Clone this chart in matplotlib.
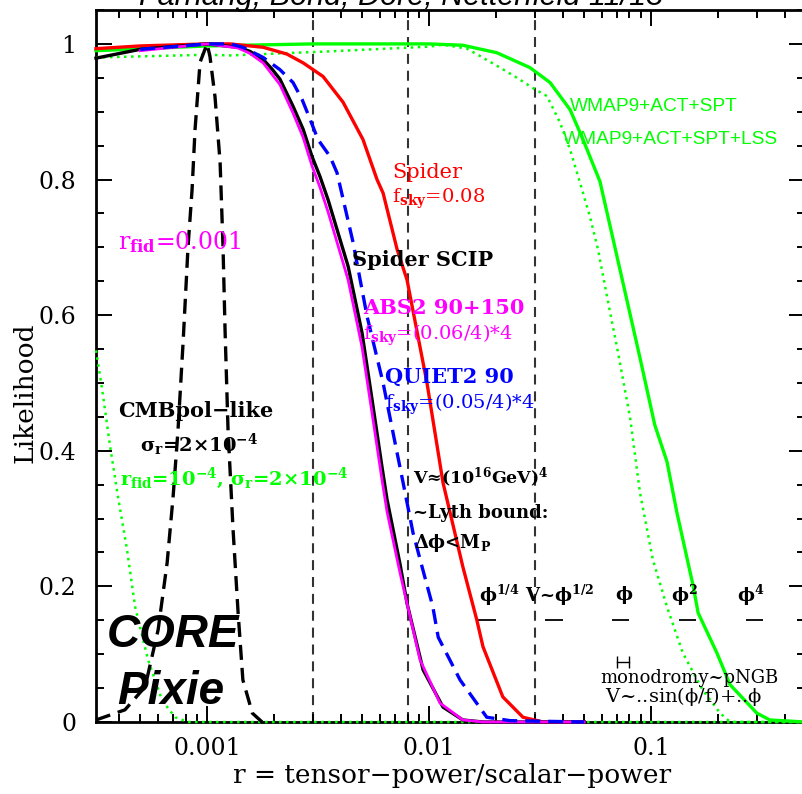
import matplotlib
matplotlib.use('Agg')
import matplotlib.pyplot as plt
from matplotlib.ticker import FixedLocator, NullFormatter

plt.rcParams['font.family'] = 'DejaVu Serif'
plt.rcParams['mathtext.fontset'] = 'dejavuserif'
plt.rcParams['mathtext.default'] = 'regular'

# Likelihood curves
spider_r = [3.16e-4, 5.0e-4, 1.0e-3, 1.27e-3, 1.79e-3, 2.29e-3, 2.71e-3, 3.33e-3, 4.10e-3, 5.04e-3,
            5.83e-3, 6.21e-3, 7.18e-3, 7.96e-3, 9.79e-3, 1.156e-2, 1.42e-2, 1.64e-2, 1.75e-2, 2.15e-2,
            2.65e-2, 3.26e-2, 5.0e-2]
spider_L = [0.993, 0.997, 1.0, 1.0, 0.995, 0.985, 0.972, 0.952, 0.914, 0.859,
            0.80, 0.78, 0.697, 0.652, 0.50, 0.353, 0.229, 0.151, 0.111, 0.037,
            0.007, 0.0, 0.0]

quiet_r = [5.0e-4, 1.0e-3, 1.27e-3, 1.45e-3, 1.79e-3, 2.13e-3, 2.44e-3, 2.68e-3, 2.91e-3, 3.16e-3,
           3.58e-3, 3.85e-3, 4.55e-3, 5.26e-3, 6.21e-3, 6.88e-3, 7.64e-3, 8.47e-3, 9.30e-3, 1.04e-2,
           1.10e-2, 1.38e-2, 1.82e-2, 2.32e-2, 5.0e-2]
quiet_L = [0.992, 1.0, 1.0, 0.995, 0.98, 0.962, 0.943, 0.918, 0.889, 0.859,
           0.834, 0.81, 0.707, 0.598, 0.50, 0.427, 0.353, 0.279, 0.229, 0.17,
           0.125, 0.062, 0.007, 0.002, 0.0]

scip_r = [3.16e-4, 5.0e-4, 1.0e-3, 1.38e-3, 1.56e-3, 1.79e-3, 1.96e-3, 2.13e-3, 2.44e-3, 2.71e-3,
          2.97e-3, 3.23e-3, 3.51e-3, 4.32e-3, 4.99e-3, 5.54e-3, 6.14e-3, 6.47e-3, 7.40e-3, 7.96e-3,
          9.40e-3, 1.156e-2, 1.42e-2, 1.75e-2, 5.0e-2]
scip_L = [0.979, 0.992, 1.0, 0.995, 0.989, 0.977, 0.963, 0.948, 0.908, 0.874,
          0.834, 0.804, 0.77, 0.672, 0.574, 0.475, 0.376, 0.328, 0.233, 0.175,
          0.077, 0.022, 0.003, 0.0, 0.0]

abs2_r = [5.0e-4, 1.0e-3, 1.38e-3, 1.56e-3, 1.79e-3, 2.13e-3, 2.44e-3, 2.71e-3, 2.97e-3, 3.23e-3,
          3.51e-3, 4.32e-3, 4.99e-3, 5.54e-3, 6.14e-3, 6.47e-3, 7.40e-3, 9.10e-3, 1.12e-2, 1.42e-2,
          1.75e-2, 5.0e-2]
abs2_L = [0.99, 1.0, 0.994, 0.986, 0.972, 0.94, 0.898, 0.862, 0.82, 0.788,
          0.752, 0.652, 0.553, 0.455, 0.357, 0.31, 0.22, 0.092, 0.028, 0.003,
          0.0, 0.0]

wmap_r = [3.16e-4, 1.0e-3, 3.0e-3, 1.0e-2, 1.42e-2, 2.02e-2, 2.85e-2, 3.51e-2, 4.32e-2, 4.94e-2,
          5.89e-2, 7.25e-2, 8.92e-2, 0.104, 0.118, 0.131, 0.155, 0.163, 0.198, 0.227,
          0.300, 0.343, 0.494]
wmap_L = [0.99, 0.997, 1.0, 1.0, 0.998, 0.987, 0.965, 0.943, 0.903, 0.859,
          0.797, 0.667, 0.537, 0.438, 0.384, 0.308, 0.2, 0.161, 0.102, 0.055,
          0.013, 0.003, 0.0]

lss_r = [3.16e-4, 1.0e-3, 1.27e-3, 3.58e-3, 1.01e-2, 1.156e-2, 1.48e-2, 1.70e-2, 2.09e-2, 2.49e-2,
         3.0e-2, 3.40e-2, 3.89e-2, 4.32e-2, 4.79e-2, 5.31e-2, 5.77e-2, 6.34e-2, 7.10e-2, 8.04e-2,
         8.92e-2, 0.102, 0.118, 0.139, 0.171, 0.205, 0.227, 0.494]
lss_L = [0.98, 0.984, 0.983, 0.989, 0.996, 0.999, 0.993, 0.982, 0.965, 0.950,
         0.933, 0.923, 0.884, 0.844, 0.795, 0.745, 0.697, 0.627, 0.545, 0.45,
         0.338, 0.239, 0.17, 0.102, 0.047, 0.013, 0.0, 0.0]

# CMBpol-like forecasts, r_fid = 1e-4 (green dotted) and r_fid = 1e-3 (black dashed)
cmb4_r = [3.16e-4, 3.37e-4, 3.66e-4, 3.97e-4, 4.36e-4, 4.74e-4, 5.42e-4, 6.27e-4, 7.18e-4, 8.21e-4, 0.494]
cmb4_L = [0.548, 0.49, 0.406, 0.332, 0.254, 0.17, 0.092, 0.032, 0.007, 0.0, 0.0]

cmb3_r = [3.16e-4, 4.27e-4, 5.26e-4, 6.02e-4, 6.61e-4, 7.03e-4, 7.40e-4, 7.80e-4, 8.21e-4, 8.56e-4,
          8.83e-4, 9.30e-4, 1.0e-3, 1.03e-3, 1.086e-3, 1.145e-3, 1.18e-3, 1.205e-3, 1.243e-3, 1.31e-3,
          1.38e-3, 1.45e-3, 1.60e-3, 1.77e-3]
cmb3_L = [0.003, 0.018, 0.052, 0.136, 0.235, 0.332, 0.431, 0.56, 0.701, 0.785,
          0.874, 0.973, 1.0, 0.982, 0.922, 0.825, 0.701, 0.579, 0.431, 0.283,
          0.161, 0.062, 0.013, 0.0]

# vertical reference lines
vlines_r = [0.003, 0.008, 0.03]

# inflation model predictions (N = 50..60)
model_lo = [0.0167, 0.0333, 0.0667, 0.133, 0.267]
model_hi = [0.02, 0.04, 0.08, 0.16, 0.32]
model_lab = [r'$\phi^{1/4}$', r'V~$\phi^{1/2}$', r'$\phi$', r'$\phi^{2}$', r'$\phi^{4}$']
model_lab_r = [0.0207, 0.0389, 0.0755, 0.142, 0.282]
mono_lo, mono_hi = 0.07, 0.08

fig = plt.figure(figsize=(8.03, 7.94), dpi=100)
ax = fig.add_axes([96/803, 72/794, 709/803, 712/794])
ax.set_xscale('log')
ax.set_xlim(3.16e-4, 0.494)
ax.set_ylim(0, 1.05)

for v in vlines_r:
    ax.axvline(v, color='#333333', lw=1.5, ls=(0, (4.8, 3.3)), zorder=1)

kw = dict(clip_on=False, zorder=3)
ax.plot(wmap_r, wmap_L, color='#00ff00', lw=2.4, **kw)
ax.plot(lss_r, lss_L, color='#00ff00', lw=1.8, ls=(0, (1, 1.8)), **kw)
ax.plot(cmb4_r, cmb4_L, color='#00ff00', lw=1.8, ls=(0, (1, 1.8)), **kw)
ax.plot(cmb3_r, cmb3_L, color='black', lw=2.4, ls=(0, (4.5, 2.4)), **kw)
ax.plot(spider_r, spider_L, color='red', lw=2.4, **kw)
ax.plot(scip_r, scip_L, color='black', lw=2.4, **kw)
ax.plot(abs2_r, abs2_L, color='#ff00ff', lw=2.0, **kw)
ax.plot(quiet_r, quiet_L, color='blue', lw=2.4, ls=(0, (4.5, 2.4)), **kw)

# model bars and labels
ax.hlines([0.15] * len(model_lo), model_lo, model_hi, color='black', lw=1.3)
for lab, xr in zip(model_lab, model_lab_r):
    ax.text(xr, 0.187, lab, ha='center', va='center', fontsize=13, fontweight='bold')
ax.plot([mono_lo, mono_hi], [0.089, 0.089], color='black', lw=1.0, marker='|', ms=9, mew=1.0)
ax.text(5.89e-2, 0.065, 'monodromy~pNGB', fontsize=13, va='center')
ax.text(6.2e-2, 0.037, r'V~..sin($\phi$/f)+..$\phi$', fontsize=14, va='center')

# annotations
ax.text(3.97e-4, 0.708, r'r$_{\mathbf{fid}}$=0.001', color='#ff00ff', fontsize=17, va='center')
ax.text(6.81e-3, 0.81, 'Spider', color='red', fontsize=15, va='center')
ax.text(6.81e-3, 0.772, r'f$_{\mathbf{sky}}$=0.08', color='red', fontsize=14, va='center')
ax.text(4.50e-3, 0.682, 'Spider SCIP', color='black', fontsize=15, fontweight='bold', va='center')
ax.text(5.04e-3, 0.611, 'ABS2 90+150', color='#ff00ff', fontsize=15, fontweight='bold', va='center')
ax.text(5.04e-3, 0.570, r'f$_{\mathbf{sky}}$=(0.06/4)*4', color='#ff00ff', fontsize=14, va='center')
ax.text(6.34e-3, 0.509, 'QUIET2 90', color='blue', fontsize=15, fontweight='bold', va='center')
ax.text(6.34e-3, 0.468, r'f$_{\mathbf{sky}}$=(0.05/4)*4', color='blue', fontsize=14, va='center')
ax.text(8.47e-3, 0.360, 'V≈(10$^{16}$GeV)$^4$', fontsize=12.5, fontweight='bold', va='center')
ax.text(8.47e-3, 0.308, '~Lyth bound:', fontsize=13, fontweight='bold', va='center')
ax.text(8.6e-3, 0.264, r'$\Delta\phi$<M$_P$', fontsize=13, fontweight='bold', va='center')
ax.text(3.97e-4, 0.458, 'CMBpol\u2212like', fontsize=15, fontweight='bold', va='center')
ax.text(5.0e-4, 0.409, '$\\sigma_r$=2×10$^{-4}$', fontsize=14, fontweight='bold', va='center')
ax.text(4.06e-4, 0.360, 'r$_{fid}$=10$^{-4}$, $\\sigma_r$=2×10$^{-4}$', color='#00ff00',
        fontsize=14, fontweight='bold', va='center')
ax.text(3.55e-4, 0.128, 'CORE', family='Liberation Sans', fontsize=33, fontweight='bold',
        style='italic', va='center')
ax.text(3.93e-4, 0.044, 'Pixie', family='Liberation Sans', fontsize=33, fontweight='bold',
        style='italic', va='center')
ax.text(4.32e-2, 0.908, 'WMAP9+ACT+SPT', color='#00ff00', family='Liberation Sans', fontsize=13.8,
        va='center')
ax.text(4.01e-2, 0.859, 'WMAP9+ACT+SPT+LSS', color='#00ff00', family='Liberation Sans',
        fontsize=13.8, va='center')

# axes styling
ax.xaxis.set_major_locator(FixedLocator([1e-3, 1e-2, 1e-1]))
ax.set_xticklabels(['0.001', '0.01', '0.1'])
ax.xaxis.set_minor_locator(FixedLocator([m * 10.0 ** e for e in (-4, -3, -2, -1) for m in range(2, 10)]))
ax.xaxis.set_minor_formatter(NullFormatter())
ax.yaxis.set_major_locator(FixedLocator([0, 0.2, 0.4, 0.6, 0.8, 1.0]))
ax.set_yticklabels(['0', '0.2', '0.4', '0.6', '0.8', '1'])
ax.yaxis.set_minor_locator(FixedLocator([i * 0.05 for i in range(22)]))
ax.tick_params(which='both', direction='in', top=True, right=True, width=1.4, labelsize=17)
ax.tick_params(which='major', length=11.5)
ax.tick_params(which='minor', length=5.5)
ax.tick_params(axis='x', pad=11)
ax.tick_params(axis='y', pad=14)
for s in ax.spines.values():
    s.set_linewidth(2)

ax.set_xlabel('r = tensor\u2212power/scalar\u2212power', fontsize=19)
ax.set_ylabel('Likelihood', fontsize=19)
ax.xaxis.set_label_coords(0.502, -0.058)
ax.yaxis.set_label_coords(-0.083, 0.463)

fig.text(0.5, 1 - 5/794, 'Farhang, Bond, Dor\u00e9, Netterfield 11/13', ha='center', va='baseline',
         family='Liberation Sans', style='italic', fontsize=22)

fig.savefig('out.png', dpi=100)
